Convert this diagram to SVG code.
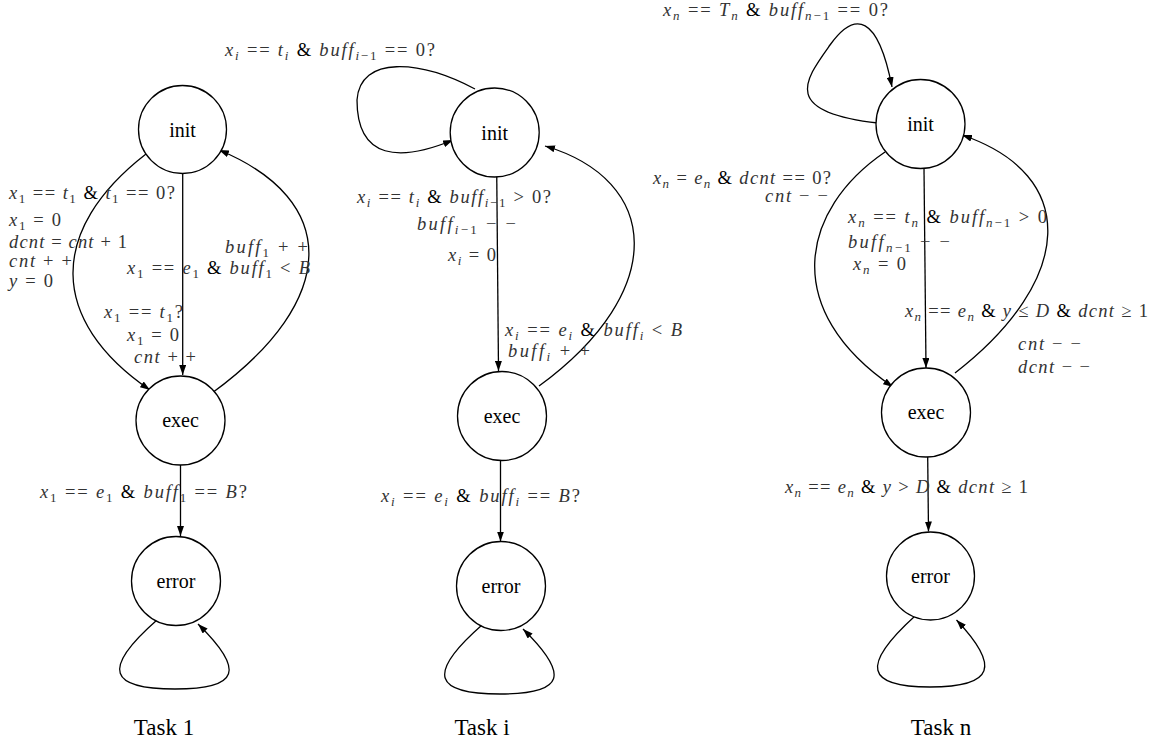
<svg xmlns="http://www.w3.org/2000/svg" width="1157" height="748" viewBox="0 0 1157 748">
<style>
.st{fill:#fff;stroke:#000;stroke-width:1.3}
.nl{font-family:"Liberation Serif","Times New Roman",serif;font-size:20px;text-anchor:middle;fill:#000}
.tl{font-family:"Liberation Serif","Times New Roman",serif;font-size:23px;text-anchor:middle;fill:#000}
.e{fill:none;stroke:#000;stroke-width:1.3;marker-end:url(#ah)}
.m{font-family:"Liberation Serif","Times New Roman",serif;font-size:18.5px;fill:#333}
.i{font-style:italic}
.b{font-size:13px;baseline-shift:-4px}
.a{fill:#000}
</style>
<defs>
<marker id="ah" markerUnits="userSpaceOnUse" markerWidth="10" markerHeight="7" refX="10" refY="3.5" orient="auto"><path d="M0,0 L10,3.5 L0,7 z" fill="#000"/></marker>
</defs>
<g id="connectors">
<path class="e" d="M182.7,173.5 L182.7,375"/>
<path class="e" d="M146,154 C48,230 48,320 150,390"/>
<path class="e" d="M212,393 C340,300 340,200 219,150"/>
<path class="e" d="M180.5,465 L180.5,536"/>
<path class="e" d="M157,620 C100,670 110,689 175,689 C240,689 245,670 198,624"/>
<path class="e" d="M475,89 C420,60 360,55 357,100 C357,160 400,162 453,140"/>
<path class="e" d="M496.7,170 L498.5,371"/>
<path class="e" d="M539,386 C670,290 660,180 545,146"/>
<path class="e" d="M500.5,461 L500.5,541.5"/>
<path class="e" d="M482,625 C425,675 435,694 500,694 C565,694 570,675 523,629"/>
<path class="e" d="M878,123 C780,112 805,80 830,45 C855,10 878,15 892,87"/>
<path class="e" d="M924,168.5 L926,368"/>
<path class="e" d="M885,152 C800,210 780,310 893,387"/>
<path class="e" d="M955,373 C1075,280 1080,175 962,135"/>
<path class="e" d="M927.7,457 L928.5,531.5"/>
<path class="e" d="M915,616 C860,666 866,687 930,687 C995,687 1000,666 956.5,620"/>
</g>
<g id="node-t1-init"><circle class="st" cx="182.5" cy="129.5" r="44"/><text class="nl" x="182.5" y="136.5">init</text></g>
<g id="node-t1-exec"><circle class="st" cx="180.5" cy="420.5" r="44.5"/><text class="nl" x="180.5" y="427">exec</text></g>
<g id="node-t1-error"><circle class="st" cx="176" cy="581" r="44.5"/><text class="nl" x="176" y="587.5">error</text></g>
<g id="node-ti-init"><circle class="st" cx="494.7" cy="132.5" r="44.5"/><text class="nl" x="494.7" y="139.5">init</text></g>
<g id="node-ti-exec"><circle class="st" cx="502" cy="416" r="44.5"/><text class="nl" x="502" y="422.5">exec</text></g>
<g id="node-ti-error"><circle class="st" cx="501" cy="586" r="44.5"/><text class="nl" x="501" y="592.5">error</text></g>
<g id="node-tn-init"><circle class="st" cx="920.5" cy="124" r="44.5"/><text class="nl" x="920.5" y="131">init</text></g>
<g id="node-tn-exec"><circle class="st" cx="926" cy="412.5" r="44.5"/><text class="nl" x="926" y="419">exec</text></g>
<g id="node-tn-error"><circle class="st" cx="930.5" cy="576" r="44"/><text class="nl" x="930.5" y="582.5">error</text></g>
<g id="labels">
<text class="m" x="9" y="199" textLength="166" lengthAdjust="spacing"><tspan class="i">x</tspan><tspan class="b">1</tspan> == <tspan class="i">t</tspan><tspan class="b">1</tspan> <tspan class="a">&amp;</tspan> <tspan class="i">t</tspan><tspan class="b">1</tspan> == 0?</text>
<text class="m" x="9" y="226" textLength="52" lengthAdjust="spacing"><tspan class="i">x</tspan><tspan class="b">1</tspan> = 0</text>
<text class="m" x="9" y="248" textLength="118" lengthAdjust="spacing"><tspan class="i">dcnt</tspan> = <tspan class="i">cnt</tspan> + 1</text>
<text class="m" x="9" y="267" textLength="63" lengthAdjust="spacing"><tspan class="i">cnt</tspan> + +</text>
<text class="m" x="9" y="287" textLength="44" lengthAdjust="spacing"><tspan class="i">y</tspan> = 0</text>
<text class="m" x="225" y="253" textLength="83" lengthAdjust="spacing"><tspan class="i">buff</tspan><tspan class="b">1</tspan> + +</text>
<text class="m" x="127" y="274" textLength="183" lengthAdjust="spacing"><tspan class="i">x</tspan><tspan class="b">1</tspan> == <tspan class="i">e</tspan><tspan class="b">1</tspan> <tspan class="a">&amp;</tspan> <tspan class="i">buff</tspan><tspan class="b">1</tspan> &lt; <tspan class="i">B</tspan></text>
<text class="m" x="104" y="318" textLength="79" lengthAdjust="spacing"><tspan class="i">x</tspan><tspan class="b">1</tspan> == <tspan class="i">t</tspan><tspan class="b">1</tspan>?</text>
<text class="m" x="127" y="341" textLength="52" lengthAdjust="spacing"><tspan class="i">x</tspan><tspan class="b">1</tspan> = 0</text>
<text class="m" x="134" y="363" textLength="62" lengthAdjust="spacing"><tspan class="i">cnt</tspan> + +</text>
<text class="m" x="40" y="498" textLength="207" lengthAdjust="spacing"><tspan class="i">x</tspan><tspan class="b">1</tspan> == <tspan class="i">e</tspan><tspan class="b">1</tspan> <tspan class="a">&amp;</tspan> <tspan class="i">buff</tspan><tspan class="b">1</tspan> == <tspan class="i">B</tspan>?</text>
<text class="m" x="225" y="56" textLength="210" lengthAdjust="spacing"><tspan class="i">x</tspan><tspan class="b i">i</tspan> == <tspan class="i">t</tspan><tspan class="b i">i</tspan> <tspan class="a">&amp;</tspan> <tspan class="i">buff</tspan><tspan class="b"><tspan class="i">i</tspan>−1</tspan> == 0?</text>
<text class="m" x="357" y="203" textLength="194" lengthAdjust="spacing"><tspan class="i">x</tspan><tspan class="b i">i</tspan> == <tspan class="i">t</tspan><tspan class="b i">i</tspan> <tspan class="a">&amp;</tspan> <tspan class="i">buff</tspan><tspan class="b"><tspan class="i">i</tspan>−1</tspan> &gt; 0?</text>
<text class="m" x="417" y="230" textLength="99" lengthAdjust="spacing"><tspan class="i">buff</tspan><tspan class="b"><tspan class="i">i</tspan>−1</tspan> − −</text>
<text class="m" x="448" y="261" textLength="48" lengthAdjust="spacing"><tspan class="i">x</tspan><tspan class="b i">i</tspan> = 0</text>
<text class="m" x="505" y="336" textLength="177" lengthAdjust="spacing"><tspan class="i">x</tspan><tspan class="b i">i</tspan> == <tspan class="i">e</tspan><tspan class="b i">i</tspan> <tspan class="a">&amp;</tspan> <tspan class="i">buff</tspan><tspan class="b i">i</tspan> &lt; <tspan class="i">B</tspan></text>
<text class="m" x="508" y="357" textLength="82" lengthAdjust="spacing"><tspan class="i">buff</tspan><tspan class="b i">i</tspan> + +</text>
<text class="m" x="381" y="502" textLength="199" lengthAdjust="spacing"><tspan class="i">x</tspan><tspan class="b i">i</tspan> == <tspan class="i">e</tspan><tspan class="b i">i</tspan> <tspan class="a">&amp;</tspan> <tspan class="i">buff</tspan><tspan class="b i">i</tspan> == <tspan class="i">B</tspan>?</text>
<text class="m" x="663" y="16" textLength="225" lengthAdjust="spacing"><tspan class="i">x</tspan><tspan class="b i">n</tspan> == <tspan class="i">T</tspan><tspan class="b i">n</tspan> <tspan class="a">&amp;</tspan> <tspan class="i">buff</tspan><tspan class="b"><tspan class="i">n</tspan>−1</tspan> == 0?</text>
<text class="m" x="653" y="184" textLength="178" lengthAdjust="spacing"><tspan class="i">x</tspan><tspan class="b i">n</tspan> = <tspan class="i">e</tspan><tspan class="b i">n</tspan> <tspan class="a">&amp;</tspan> <tspan class="i">dcnt</tspan> == 0?</text>
<text class="m" x="765" y="202" textLength="63" lengthAdjust="spacing"><tspan class="i">cnt</tspan> − −</text>
<text class="m" x="848" y="223" textLength="199" lengthAdjust="spacing"><tspan class="i">x</tspan><tspan class="b i">n</tspan> == <tspan class="i">t</tspan><tspan class="b i">n</tspan> <tspan class="a">&amp;</tspan> <tspan class="i">buff</tspan><tspan class="b"><tspan class="i">n</tspan>−1</tspan> &gt; 0</text>
<text class="m" x="848" y="248" textLength="102" lengthAdjust="spacing"><tspan class="i">buff</tspan><tspan class="b"><tspan class="i">n</tspan>−1</tspan> − −</text>
<text class="m" x="853" y="270" textLength="53" lengthAdjust="spacing"><tspan class="i">x</tspan><tspan class="b i">n</tspan> = 0</text>
<text class="m" x="905" y="317" textLength="243" lengthAdjust="spacing"><tspan class="i">x</tspan><tspan class="b i">n</tspan> == <tspan class="i">e</tspan><tspan class="b i">n</tspan> <tspan class="a">&amp;</tspan> <tspan class="i">y</tspan> ≤ <tspan class="i">D</tspan> <tspan class="a">&amp;</tspan> <tspan class="i">dcnt</tspan> ≥ 1</text>
<text class="m" x="1018" y="350" textLength="63" lengthAdjust="spacing"><tspan class="i">cnt</tspan> − −</text>
<text class="m" x="1018" y="373" textLength="72" lengthAdjust="spacing"><tspan class="i">dcnt</tspan> − −</text>
<text class="m" x="785" y="493" textLength="243" lengthAdjust="spacing"><tspan class="i">x</tspan><tspan class="b i">n</tspan> == <tspan class="i">e</tspan><tspan class="b i">n</tspan> <tspan class="a">&amp;</tspan> <tspan class="i">y</tspan> &gt; <tspan class="i">D</tspan> <tspan class="a">&amp;</tspan> <tspan class="i">dcnt</tspan> ≥ 1</text>
</g>
<g id="titles">
<text class="tl" x="164" y="735">Task 1</text>
<text class="tl" x="482" y="735">Task i</text>
<text class="tl" x="941" y="735">Task n</text>
</g>
</svg>
